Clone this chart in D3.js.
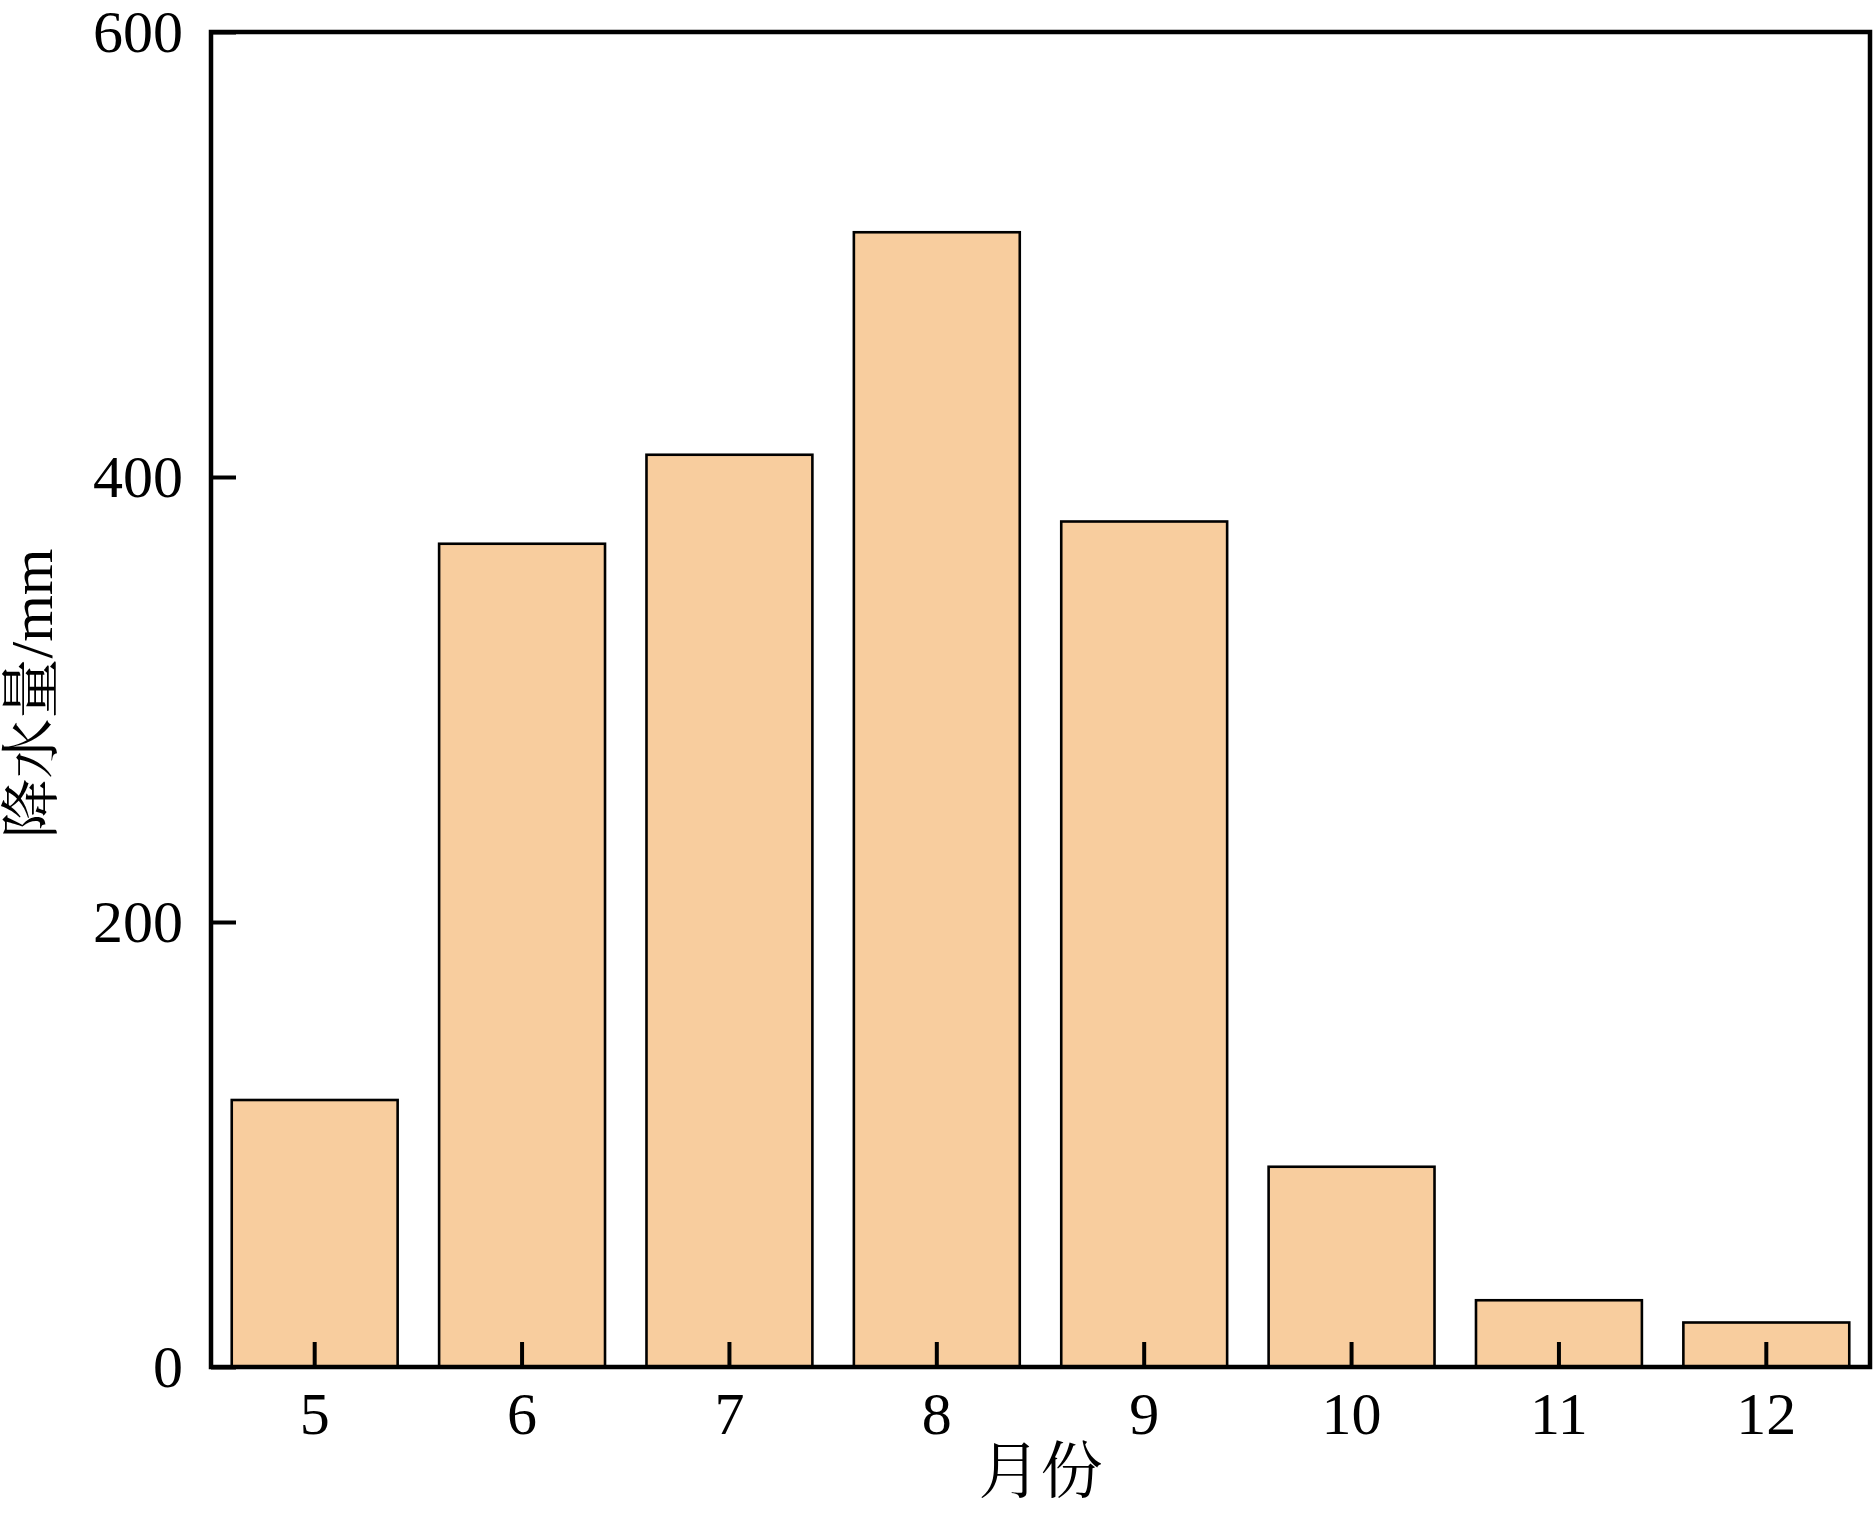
<!DOCTYPE html>
<html><head><meta charset="utf-8">
<script src="https://cdn.jsdelivr.net/npm/d3@7"></script>
<style>
html,body{margin:0;padding:0;background:#fff;}
svg{display:block;}
</style></head>
<body>
<svg id="chart" width="1874" height="1513"></svg>
<script>
const months = ["5","6","7","8","9","10","11","12"];
const rainfall = [120, 370, 410, 510, 380, 90, 30, 20];
const yTicks = [0, 200, 400, 600];
const xTitle = "月份";
const yTitle = "降水量/mm";

const W = 1874, H = 1513;
const m = {left: 211, right: 4, top: 32, bottom: 146};
const svg = d3.select("#chart");
const serif = "'Liberation Serif','Times New Roman',serif";
const cjk = "'Liberation Serif','Noto Serif CJK SC','Noto Sans CJK SC',serif";

const x = d3.scaleBand().domain(months).range([m.left, W - m.right]).paddingInner(0.2).paddingOuter(0.1);
const y = d3.scaleLinear().domain([0, 600]).range([H - m.bottom, m.top]);

// bars
svg.append("g").selectAll("rect").data(rainfall).join("rect")
  .attr("x", (d,i) => x(months[i]))
  .attr("width", x.bandwidth())
  .attr("y", d => y(d))
  .attr("height", d => y(0) - y(d))
  .attr("fill", "#F8CD9E")
  .attr("stroke", "#000")
  .attr("stroke-width", 2.6);

// axes
const xAxis = svg.append("g").attr("transform", `translate(0,${y(0)})`)
  .call(d3.axisBottom(x).tickSizeInner(-25).tickSizeOuter(0).tickPadding(24));
const yAxis = svg.append("g").attr("transform", `translate(${m.left},0)`)
  .call(d3.axisLeft(y).tickValues(yTicks).tickSizeInner(-25).tickSizeOuter(0).tickPadding(28));
[xAxis, yAxis].forEach(g => {
  g.select(".domain").remove();
  g.selectAll(".tick line").attr("stroke", "#000").attr("stroke-width", 4);
  g.selectAll(".tick text").attr("fill", "#000").style("font-family", serif).style("font-size", "60px");
});

// frame
svg.append("rect")
  .attr("x", m.left).attr("y", m.top)
  .attr("width", W - m.right - m.left).attr("height", y(0) - m.top)
  .attr("fill", "none").attr("stroke", "#000").attr("stroke-width", 4.5);

// titles
svg.append("text").text(xTitle)
  .attr("x", (m.left + W - m.right) / 2).attr("y", 1472)
  .attr("text-anchor", "middle").attr("dominant-baseline", "central")
  .style("font-family", cjk).style("font-size", "62px").attr("fill", "#000");
svg.append("text").text(yTitle)
  .attr("transform", `translate(32,${(m.top + y(0)) / 2 - 6}) rotate(-90)`)
  .attr("text-anchor", "middle").attr("dominant-baseline", "central")
  .style("font-family", cjk).style("font-size", "60px").attr("fill", "#000");
</script>
</body></html>
